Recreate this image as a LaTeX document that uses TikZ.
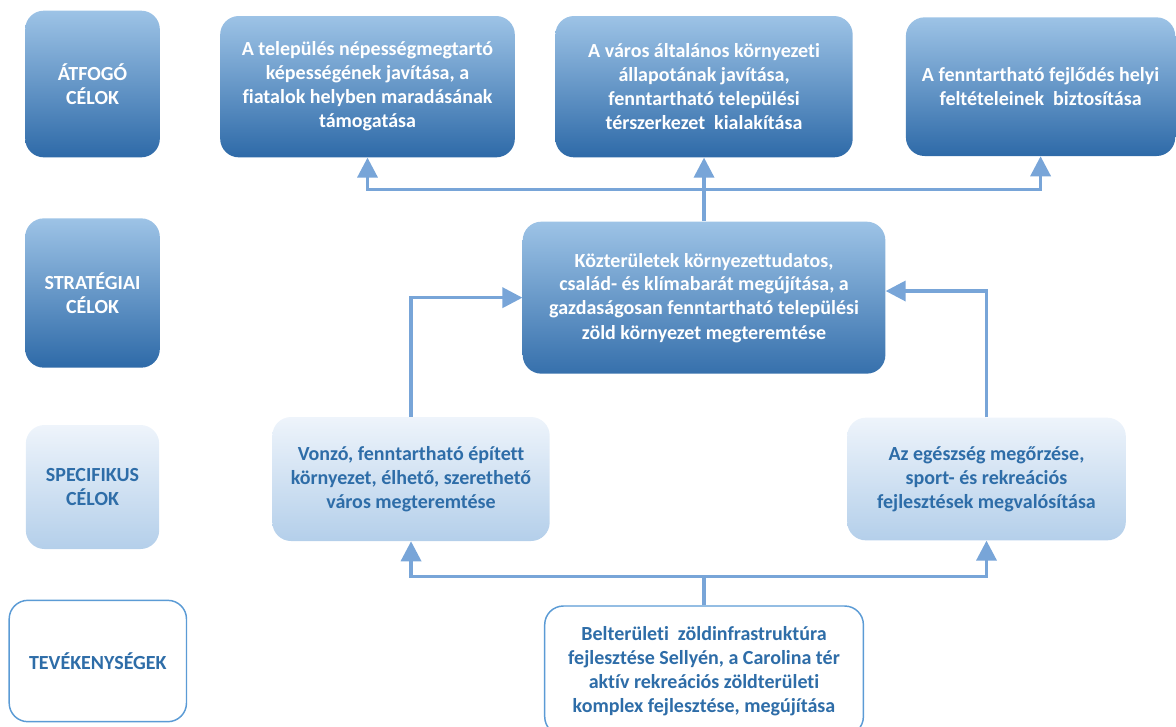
\documentclass[tikz,border=0pt]{standalone}
\usepackage{fontspec}
\setmainfont{Carlito}[Ligatures=NoCommon]
\usetikzlibrary{positioning, arrows.meta}
\definecolor{darktop}{HTML}{9DC3E6}
\definecolor{darkbot}{HTML}{2E6AA8}
\definecolor{midtop}{HTML}{9DC3E6}
\definecolor{midmid}{HTML}{8DB8E2}
\definecolor{midbot}{HTML}{3670AC}
\definecolor{lighttop}{HTML}{EEF4FB}
\definecolor{lightbot}{HTML}{B4CFEA}
\definecolor{textblue}{HTML}{2E6DA8}
\definecolor{edgeblue}{HTML}{5B9BD5}
\definecolor{connblue}{HTML}{78A5D8}

\begin{document}
\begin{tikzpicture}[x=0.75pt,y=-0.75pt,>={Triangle[width=15pt,length=15pt]},
  font=\bfseries\fontsize{15}{18}\selectfont,
  box/.style={rounded corners=14pt,align=center,inner sep=2pt},
  dark/.style={box,top color=darktop,bottom color=darkbot,text=white},
  mid/.style={box,top color=midtop,middle color=midmid,bottom color=midbot,text=white},
  light/.style={box,top color=lighttop,bottom color=lightbot,text=textblue},
  plain/.style={box,draw=edgeblue,line width=1.1pt,fill=white,text=textblue},
  conn/.style={draw=connblue,line width=2.6pt}]
\useasboundingbox (0,0) rectangle (1176,726);
\node[dark,minimum width=101pt,minimum height=110pt]   (atf)  at (92.5,84)                                  {ÁTFOGÓ\\CÉLOK};
\node[dark,minimum width=221pt,minimum height=106pt]   (g1)   [right of=atf,node distance=206.25pt,yshift=-2pt] {A település népességmegtartó\\képességének javítása, a\\fiatalok helyben maradásának\\támogatása};
\node[dark,minimum width=223pt,minimum height=106pt]   (g2)   [right of=g1,node distance=252.4pt]           {A város általános környezeti\\állapotának javítása,\\fenntartható települési\\térszerkezet\ \ kialakítása};
\node[dark,minimum width=202pt,minimum height=104pt]   (g3)   [right of=g2,node distance=252.4pt]           {A fenntartható fejlődés helyi\\feltételeinek\ \ biztosítása};
\node[dark,minimum width=101pt,minimum height=112pt]   (strat) [below of=atf,node distance=156.75pt]        {STRATÉGIAI\\CÉLOK};
\node[mid,minimum width=272pt,minimum height=114pt]    (s)    [below of=g2,node distance=158.25pt]          {Közterületek környezettudatos,\\család- és klímabarát megújítása, a\\gazdaságosan fenntartható települési\\zöld környezet megteremtése};
\node[light,minimum width=100pt,minimum height=93pt]   (spec) [below of=strat,node distance=145.5pt]        {SPECIFIKUS\\CÉLOK};
\node[light,minimum width=208pt,minimum height=93pt]   (sp1)  [right of=spec,node distance=238.9pt,yshift=6pt] {Vonzó, fenntartható épített\\környezet, élhető, szerethető\\város megteremtése};
\node[light,minimum width=209pt,minimum height=92pt]   (sp2)  [right of=sp1,node distance=431.6pt]          {Az egészség megőrzése,\\sport- és rekreációs\\fejlesztések megvalósítása};
\node[plain,minimum width=133pt,minimum height=91pt]   (tev)  [below of=spec,node distance=130.5pt,xshift=4pt] {TEVÉKENYSÉGEK};
\node[plain,minimum width=239pt,minimum height=97pt]   (act)  [below of=s,node distance=279.75pt]           {Belterületi\ \ zöldinfrastruktúra\\fejlesztése Sellyén, a Carolina tér\\aktív rekreációs zöldterületi\\komplex fejlesztése, megújítása};
\coordinate (topbus) at ([yshift=24pt]s.north);
\coordinate (botbus) at ([yshift=21.75pt]act.north);
\draw[conn] (s.north) -- (topbus);
\draw[conn,->] (topbus) -| (g1.south);
\draw[conn,->] (topbus) -- (g2.south);
\draw[conn,->] (topbus) -| (g3.south);
\draw[conn,->] (sp1.north) |- (s.west);
\draw[conn,->] (sp2.north) |- ([yshift=5pt]s.east);
\draw[conn] (act.north) -- (botbus);
\draw[conn,->] (botbus) -| (sp1.south);
\draw[conn,->] (botbus) -| (sp2.south);
\end{tikzpicture}
\end{document}
